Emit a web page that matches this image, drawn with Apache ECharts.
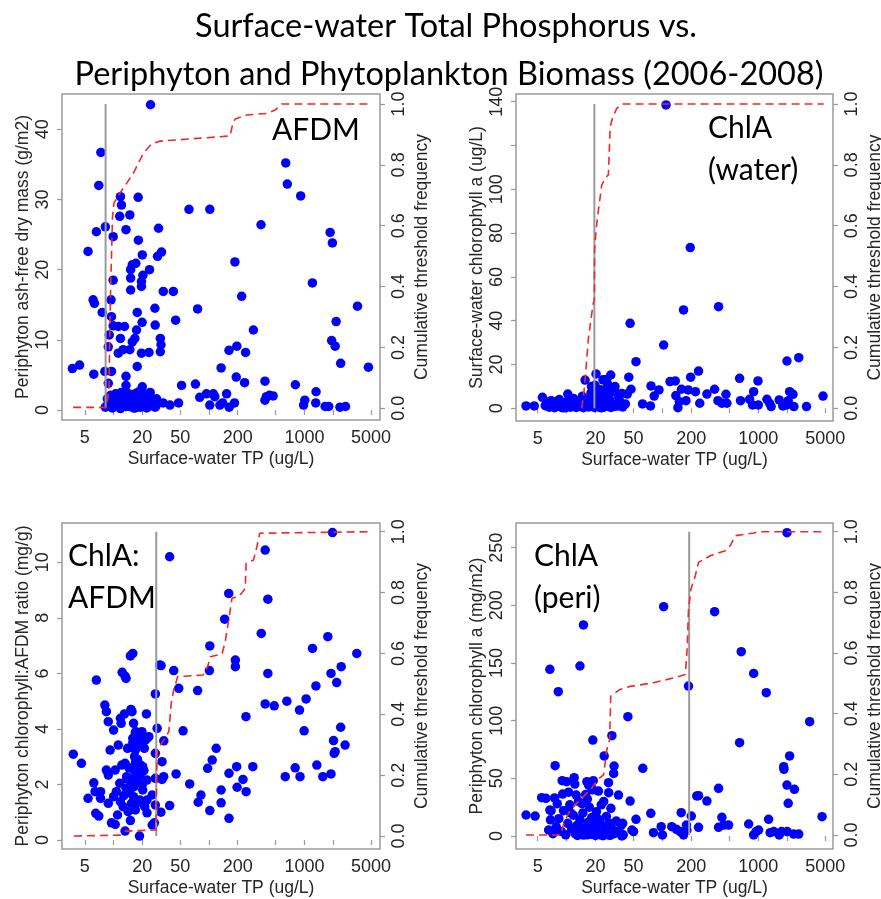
<!DOCTYPE html>
<html><head><meta charset="utf-8">
<script src="https://cdn.jsdelivr.net/npm/echarts@6/dist/echarts.min.js"></script>
<style>html,body{margin:0;padding:0;background:#fff}#c{width:881px;height:899px}</style>
</head><body><div id="c"></div>
<script>
// ---------- shared ticks ----------
const xTicks = [5, 10, 20, 50, 100, 200, 500, 1000, 2000, 5000];
const xTickLabels = [5, 20, 50, 200, 1000, 5000];
const freqTicks = [0, 0.2, 0.4, 0.6, 0.8, 1.0];
const titleLines = ['Surface-water Total Phosphorus vs.', 'Periphyton and Phytoplankton Biomass (2006-2008)'];
const xName = 'Surface-water TP (ug/L)';
const freqName = 'Cumulative threshold frequency';

// ---------- Panel 1: AFDM ----------
const p1Label = ['AFDM'];
const p1Name = 'Periphyton ash-free dry mass (g/m2)';
const p1Ticks = [0, 10, 20, 30, 40];
const p1TickLabels = [0, 10, 20, 30, 40];
const p1TP = [24.4,7.36,7.0,11.8,12.1,18.1,11.6,14.8,6.6,8.2,13.5,9.9,5.4,29.6,31.8,28.9,20,18.2,23.8,20.3,15.1,15.7,17.1,15.1,19.6,9.9,19.6,15.1,187,220,33.2,42.3,61.7,102,351,637,662,914,1860,1965,1213,3600,2150,1930,2100,2400,4690,292,162,196,242,134,193,236,386,804,76,44.7,27.1,27.3,30.9,31.4,30.9,23.5,19.6,17.7,19.9,17.4,16.7,15.7,14.8,12.6,13.0,11.2,11.8,11.2,17.7,9.4,9.5,9.9,9.0,8.8,7.6,6.1,6.3,4.4,3.7,6.2,8.1,9.5,8.8,13.5,13.5,20,51.6,72.1,80,94,111,115,102,130,153,139,185,163,400,430,470,386,1325,1315,1010,980,1650,1800,2360,2700,39,33,48,
  8.2,8.6,9.0,9.3,9.7,10.1,10.5,10.9,11.3,11.8,12.2,12.6,13.1,13.5,14.0,14.4,14.9,15.3,15.8,16.2,16.7,17.1,17.6,18.1,18.6,19.1,19.6,20.2,20.8,21.5,22.2,23.0,23.8,24.6,25.5,26.4,27.3,28.2,29.0,
  8.8,9.9,11.0,12.0,13.3,14.7,15.6,16.9,18.4,19.9,21.1,22.6,24.2,26.0,27.8,12.9,17.3,20.5];
const p1AFDM = [43.5,36.7,32.0,30.4,29.2,30.3,27.6,27.8,25.4,26.1,25.7,24.7,22.6,25.9,22.5,21.9,22.1,24.2,20.0,19.2,20.0,20.7,20.9,18.8,18.3,18.5,17.6,17.1,21.1,16.2,16.9,16.9,28.6,28.6,26.4,35.2,32.2,30.5,25.3,23.8,18.1,14.8,12.6,9.9,9.1,6.65,6.1,11.4,8.5,9.1,8.2,6.0,4.7,3.9,4.1,3.6,14.4,12.8,14.5,12.1,10.2,9.3,8.3,8.2,8.1,13.9,12.5,11.4,10.2,9.7,8.6,8.6,11.9,11.9,10.2,8.1,6.2,15.7,13.3,12.0,10.7,9.0,13.9,15.7,15.2,6.4,5.9,5.1,5.5,5.5,3.8,4.8,3.5,3.3,3.5,3.7,1.8,2.3,2.3,1.9,0.7,0.7,2.3,1.0,1.0,0.4,1.9,2.1,2.0,1.4,2.6,1.0,1.4,0.7,0.5,0.5,0.4,0.5,0.7,1.0,1.0,
  0.4,1.6,0.9,2.1,0.3,1.2,2.3,0.6,1.8,0.2,1.4,2.0,0.7,1.1,2.4,0.5,1.7,0.9,2.2,0.3,1.3,1.9,0.6,2.1,1.0,0.4,1.5,2.3,0.8,1.2,0.3,1.9,2.2,0.6,1.4,0.9,0.4,1.6,1.1,
  1.0,0.7,1.5,2.5,0.5,1.1,2.0,0.3,2.6,0.6,1.7,0.9,2.5,1.3,0.6,1.8,2.4,1.3];
const p1CdfTP = [3.77,8.4,8.93,9.3,9.75,10.07,11.6,16.1,20.5,25,30.6,166,175,187,248,403,492,578,4890];
const p1Cdf = [0.003,0.003,0.06,0.385,0.63,0.674,0.706,0.772,0.838,0.869,0.878,0.895,0.926,0.95,0.964,0.969,0.98,1.0,1.0];
const p1Threshold = 8.25;

// ---------- Panel 2: ChlA (water) ----------
const p2Label = ['ChlA', '(water)'];
const p2Name = 'Surface-water chlorophyll a (ug/L)';
const p2Ticks = [0, 20, 40, 60, 80, 100, 120, 140];
const p2TickLabels = [0, 20, 40, 60, 80, 100, 140];
const p2TP = [109,195,166,385,46,103,53,1990,2640,238,638,991,20.3,28.9,197,44.6,15.6,26.2,120,136,32,76,18.2,19,92,158,186,221,350,894,2120,2300,47,37.7,82,138,291,460,4730,10.3,5.6,811,652,1230,1650,2050,379,418,470,176,150,245,62,75,870,1000,1310,1360,1800,1970,2350,3180,145,3.78,4.6,
  6.0,6.3,6.6,6.9,7.2,7.5,7.8,8.1,8.4,8.7,9.0,9.4,9.8,10.2,10.6,11.0,11.4,11.8,12.2,12.6,13.0,13.4,13.8,14.2,14.6,15.0,15.5,16.0,16.5,17.0,17.5,18.0,18.5,19.0,19.5,20.0,20.6,21.3,22.0,22.8,23.6,24.4,25.3,26.2,27.1,28.0,29.0,30.5,32.0,34.0,36.0,38.5,41.0,43.0,
  7.0,8.0,9.2,10.8,12.4,14.0,15.8,17.2,18.8,21.0,23.0,25.0,27.5,31.0,35.0,19.8,22.5,26.8,24.0];
const p2Chl = [138.5,73.4,44.9,46.4,38.8,28.9,21.3,21.6,23.1,17.0,13.7,12.5,15.7,15.2,14.2,14.2,12.9,13.2,12.2,12.5,9.9,10.2,9.9,8.4,8.4,8.7,8.4,7.6,8.7,7.6,7.6,6.4,8.7,6.8,5.6,5.8,6.5,6.4,5.6,6.5,5.0,4.1,3.5,4.1,3.8,3.5,3.5,2.3,2.3,3.5,3.0,2.3,2.0,1.1,1.5,1.5,2.3,0.8,1.1,1.5,0.8,0.8,0.3,1.1,1.1,
  1.2,2.8,0.5,3.5,1.5,0.3,2.5,1.0,4.0,0.6,2.0,1.2,0.3,3.0,1.6,0.5,2.4,4.5,1.0,0.4,2.0,3.2,0.8,1.5,5.5,0.3,2.6,1.2,4.0,0.6,2.2,7.0,1.0,3.5,0.4,5.5,1.8,0.7,3.0,1.2,6.0,0.5,2.5,9.0,1.0,4.2,0.4,2.0,7.5,1.0,3.0,0.6,2.0,6.5,
  0.8,3.2,0.2,1.8,2.9,0.9,3.8,1.6,4.8,2.4,0.2,4.0,6.5,0.8,5.0,10.5,8.5,11.0,13.0];
const p2CdfTP = [14.4,15.2,15.8,16.9,17.9,19.0,19.5,19.6,20.3,21.5,23.3,25.6,27.3,28.5,30.3,33.4,37.7,4810];
const p2Cdf = [0.0,0.055,0.115,0.23,0.29,0.345,0.356,0.52,0.586,0.652,0.734,0.759,0.767,0.925,0.956,0.986,1.0,1.0];
const p2Threshold = 19.5;

// ---------- Panel 3: ChlA:AFDM ----------
const p3Label = ['ChlA:', 'AFDM'];
const p3Name = 'Periphyton chlorophyll:AFDM ratio (mg/g)';
const p3Ticks = [0, 2, 4, 6, 8, 10];
const p3TickLabels = [0, 2, 4, 6, 8, 10];
const p3TP = [1970,38.7,388,161,414,146,353,1760,102,1216,3540,15.0,15.9,30.5,31.5,189,189,2430,101,42.7,12.3,13.2,13.5,6.6,414,1900,2180,1320,48.2,76,27.4,655,1042,388,483,889,8.1,8.4,15.2,15.6,13.0,22.1,244,8.8,11.8,12.0,16.2,10.0,16.9,53.5,2400,993,28.6,15.9,19.0,22.4,23.4,15.9,18.3,19.5,21.0,16.9,33.6,11.2,9.2,2020,2670,2100,2050,119,108,3.78,4.6,32.2,27.4,16.6,13.2,10.4,8.8,8.4,96.8,162,195,288,800,1350,630,900,1560,1900,45.2,227,32.2,33.5,13.7,19.0,22.4,27.4,62.8,134,197,245,82.4,77,134,102,162,38.7,31.3,27.4,22.4,26.8,25.4,18.7,13.2,10.4,9.5,6.5,7.0,5.4,6.4,6.2,7.3,8.8,10.7,10.0,11.8,12.6,14.2,15.4,16.9,17.5,18.9,22.4,16.2,20.2,13.5,11.6,15.4,16.4,25.4,16.3,20.2,18.9,16.2,7.3,
  14.5,17.8,20.8,12.2,17.2,19.8,21.5,14.0,18.0,20.0,12.8,14.8,21.2,11.0,15.0,17.0,19.2,13.8];
const p3Ratio = [11.07,10.2,10.44,8.88,8.67,7.95,7.44,7.32,6.99,6.9,6.72,6.63,6.72,6.30,6.28,6.48,6.24,6.24,6.1,6.1,6.04,5.9,5.82,5.76,6.0,6.0,5.67,5.55,5.46,5.38,5.26,5.0,5.08,4.9,4.83,4.68,4.86,4.62,4.7,4.62,4.54,4.54,4.44,4.26,4.38,4.2,4.2,3.96,3.87,3.93,4.06,3.93,4.02,3.66,3.72,3.66,3.72,3.5,3.48,3.42,3.3,3.24,3.57,3.42,3.24,3.58,3.42,3.18,3.12,3.3,2.88,3.09,2.76,2.82,3.12,3.0,2.76,2.52,2.34,2.52,2.58,2.4,2.64,2.64,2.6,2.7,2.28,2.28,2.28,2.38,2.38,2.18,2.18,2.28,2.28,2.34,2.16,2.22,2.02,1.8,1.9,1.74,1.62,1.36,1.34,1.06,0.78,1.24,1.0,1.26,0.98,0.62,0.54,0.14,0.32,0.56,0.62,0.96,0.86,1.5,1.74,2.06,1.5,1.32,1.74,1.56,1.38,1.2,1.02,1.32,1.08,1.32,1.44,1.44,1.56,1.8,1.86,2.04,2.04,1.92,1.62,2.52,2.64,2.4,2.22,1.74,
  2.6,2.9,2.5,2.7,3.9,3.9,3.6,3.3,2.1,2.0,1.6,1.7,1.2,0.9,0.7,2.8,2.7,2.2];
const p3CdfTP = [3.84,11.8,13.2,27.9,28.3,28.9,33.6,37.9,40.2,42.7,47,86.5,96.8,103,137,148,167,174,209,240,245,293,318,340,355,4870];
const p3Cdf = [0.0,0.003,0.016,0.02,0.217,0.283,0.315,0.343,0.436,0.48,0.524,0.529,0.556,0.589,0.598,0.639,0.743,0.781,0.789,0.814,0.896,0.907,0.951,0.995,1.0,1.0];
const p3Threshold = 28;

// ---------- Panel 4: ChlA (peri) ----------
const p4Label = ['ChlA', '(peri)'];
const p4Name = 'Periphyton chlorophyll a (mg/m2)';
const p4Ticks = [0, 50, 100, 150, 200, 250];
const p4TickLabels = [0, 50, 100, 150, 200, 250];
const p4TP = [1990,103,350,15.0,664,13.8,6.7,894,8.2,1210,187,43.6,3430,29.7,18.8,638,24.7,2120,7.6,31.3,62.4,1840,1850,31.0,12.0,10.0,16.3,27.4,18,385,1990,2380,27.5,34.8,9.1,12.6,238,228,5.5,6.1,46.0,291,2050,4620,1280,75.6,157,200,417,53,238,793,3.78,4.7,6.5,6.7,80.7,100,153,140,125,97,178,180,166,435,490,385,894,1007,950,1330,1450,1650,1750,2340,2640,2000,50,37.7,48,38.5,
  7.2,7.8,8.3,8.8,9.3,9.8,10.3,10.8,11.3,11.8,12.3,12.8,13.3,13.8,14.3,14.8,15.3,15.8,16.3,16.8,17.3,17.8,18.3,18.8,19.3,19.8,20.5,21.2,22.0,22.8,23.6,24.4,25.2,26.0,27.0,28.0,29.0,30.0,31.5,33.0,35.0,37.0,39.0,9.0,10.5,12.2,14.5,16.5,17.0,19.0,21.5,23.0,8.0,7.5,11.0,13.0,15.0,18.0,20.0,22.5,24.0,26.5,28.5,6.8,6.9];
const p4Chl = [263,198.8,194.5,183,159.8,147.4,144.5,141,125.1,124.3,130,103.5,99.1,87,83.2,80.9,69.4,69.4,61,60.7,58.7,60.1,57.8,54.3,50.6,47.1,47.1,46.2,42.8,41.3,44.2,40.5,37.6,35.5,36.4,35.5,35,34.7,33.2,32.7,30.3,30.3,28.3,16.8,14.5,19.7,20.2,17.3,16.2,14.5,7.5,10.4,18.2,17.3,5.2,22.5,2.9,0.9,3.8,5.8,8.1,8.1,9.5,5.2,0.9,9.5,9.5,7.5,0.9,5.2,3.8,2.9,3.8,0.9,3.8,1.7,1.7,3.8,3.8,0,5.2,11,
  2,8,15,4,22,1,11,27,6,18,2,9,30,14,3,20,7,36,1,12,25,5,16,40,3,10,21,6,14,2,9,30,4,17,1,11,24,6,2,13,4,9,1,48,38,45,28,32,44,48,39,27,28,33,20,0.5,0.8,1.5,0.5,1,0.3,2.5,0.6,14,22];
const p4CdfTP = [3.78,8.6,9.4,10.7,12.8,15.6,18.3,21,24.3,26.3,28.1,28.9,36.2,46,80.7,131,173,181,187,198,220,238,315,452,510,575,894,1030,4810];
const p4Cdf = [0.0,0.0,0.039,0.077,0.105,0.132,0.154,0.182,0.198,0.281,0.314,0.458,0.48,0.49,0.502,0.518,0.529,0.612,0.744,0.81,0.855,0.899,0.921,0.937,0.954,0.987,0.996,1.0,1.0];
const p4Threshold = 190;

// ---------- layout (pixels) ----------
const panels = [
  {grid:{left:62, top:94, width:318, height:326}, x:[2.88,6200], yl:[-1.425,45.03], yr:[-0.0385,1.0329],
   ticks:p1Ticks, tickLabels:p1TickLabels, name:p1Name, tp:p1TP, val:p1AFDM, cdfTP:p1CdfTP, cdf:p1Cdf, thr:p1Threshold,
   label:p1Label, lx:272, ly:128},
  {grid:{left:516, top:94, width:317, height:327}, x:[2.97,6010], yl:[-5.8,143.5], yr:[-0.0417,1.0329],
   ticks:p2Ticks, tickLabels:p2TickLabels, name:p2Name, tp:p2TP, val:p2Chl, cdfTP:p2CdfTP, cdf:p2Cdf, thr:p2Threshold,
   label:p2Label, lx:708, ly:126},
  {grid:{left:62, top:523, width:318, height:326}, x:[2.88,6200], yl:[-0.324,11.415], yr:[-0.0427,1.0286],
   ticks:p3Ticks, tickLabels:p3TickLabels, name:p3Name, tp:p3TP, val:p3Ratio, cdfTP:p3CdfTP, cdf:p3Cdf, thr:p3Threshold,
   label:p3Label, lx:68, ly:554},
  {grid:{left:516, top:523, width:317, height:326}, x:[2.97,6010], yl:[-11.27,271.4], yr:[-0.0463,1.0288],
   ticks:p4Ticks, tickLabels:p4TickLabels, name:p4Name, tp:p4TP, val:p4Chl, cdfTP:p4CdfTP, cdf:p4Cdf, thr:p4Threshold,
   label:p4Label, lx:534, ly:554}
];

const axisFont = 'Liberation Sans';
const textCol = '#262626';
const boxCol = '#9a9a9a';

const grids = [], xAxes = [], yAxes = [], series = [], graphics = [];
panels.forEach((p, i) => {
  grids.push(Object.assign({show:true, borderColor:boxCol, borderWidth:1.5, backgroundColor:'transparent',
    containLabel:false, outerBoundsMode:'none'}, p.grid));
  xAxes.push({
    type:'log', logBase:10, gridIndex:i, min:p.x[0], max:p.x[1],
    axisLine:{show:false}, splitLine:{show:false}, minorTick:{show:false},
    axisTick:{show:true, length:5, customValues:xTicks, lineStyle:{color:boxCol, width:1.2}},
    axisLabel:{customValues:xTickLabels, margin:9, fontSize:18, fontFamily:axisFont, color:textCol,
      formatter:v => String(Math.round(v))},
    name:xName, nameLocation:'middle', nameGap:30, nameMoveOverlap:false,
    nameTextStyle:{fontSize:17.5, fontFamily:axisFont, color:textCol}
  });
  yAxes.push({
    type:'value', gridIndex:i, position:'left', min:p.yl[0], max:p.yl[1],
    axisLine:{show:false}, splitLine:{show:false},
    axisTick:{show:true, length:5, customValues:p.ticks, lineStyle:{color:boxCol, width:1.2}},
    axisLabel:{customValues:p.tickLabels, rotate:90, margin:10, fontSize:18, fontFamily:axisFont, color:textCol,
      formatter:v => String(Math.round(v*100)/100)},
    name:p.name, nameLocation:'middle', nameRotate:90, nameGap:30, nameMoveOverlap:false,
    nameTextStyle:{fontSize:17.5, fontFamily:axisFont, color:textCol}
  });
  yAxes.push({
    type:'value', gridIndex:i, position:'right', min:p.yr[0], max:p.yr[1],
    axisLine:{show:false}, splitLine:{show:false},
    axisTick:{show:true, length:5, customValues:freqTicks, lineStyle:{color:boxCol, width:1.2}},
    axisLabel:{customValues:freqTicks, rotate:90, margin:10, fontSize:18, fontFamily:axisFont, color:textCol,
      formatter:v => v.toFixed(1)},
    name:freqName, nameLocation:'middle', nameRotate:90, nameGap:33, nameMoveOverlap:false,
    nameTextStyle:{fontSize:17.5, fontFamily:axisFont, color:textCol}
  });
  series.push({
    type:'scatter', xAxisIndex:i, yAxisIndex:2*i, symbolSize:9.5, z:2,
    itemStyle:{color:'#0000ff', opacity:1},
    data:p.tp.map((t, k) => [t, p.val[k]])
  });
  series.push({
    type:'line', xAxisIndex:i, yAxisIndex:2*i+1, showSymbol:false, symbol:'none', z:3,
    lineStyle:{color:'#9a9a9a', width:2},
    data:[[p.thr, 0], [p.thr, 1]]
  });
  series.push({
    type:'line', xAxisIndex:i, yAxisIndex:2*i+1, showSymbol:false, symbol:'none', z:4,
    lineStyle:{color:'#f02828', width:1.6, type:[8,5]},
    data:p.cdfTP.map((t, k) => [t, p.cdf[k]])
  });
  p.label.forEach((s, k) => {
    graphics.push({type:'text', x:p.lx, y:p.ly + 2 + k*42, z:10,
      style:{text:s, fontSize:30, fontFamily:'Lato', fill:'#000', align:'left', verticalAlign:'middle'}});
  });
});

graphics.push({type:'text', x:446, y:27, z:10,
  style:{text:titleLines[0], fontSize:32.5, fontFamily:'Lato', fill:'#000', align:'center', verticalAlign:'middle'}});
graphics.push({type:'text', x:449, y:75, z:10,
  style:{text:titleLines[1], fontSize:32.5, fontFamily:'Lato', fill:'#000', align:'center', verticalAlign:'middle'}});

const chart = echarts.init(document.getElementById('c'), null, {renderer:'canvas'});
chart.setOption({
  animation:false,
  backgroundColor:'#fff',
  grid:grids, xAxis:xAxes, yAxis:yAxes, series:series, graphic:graphics
});
</script>
</body></html>
